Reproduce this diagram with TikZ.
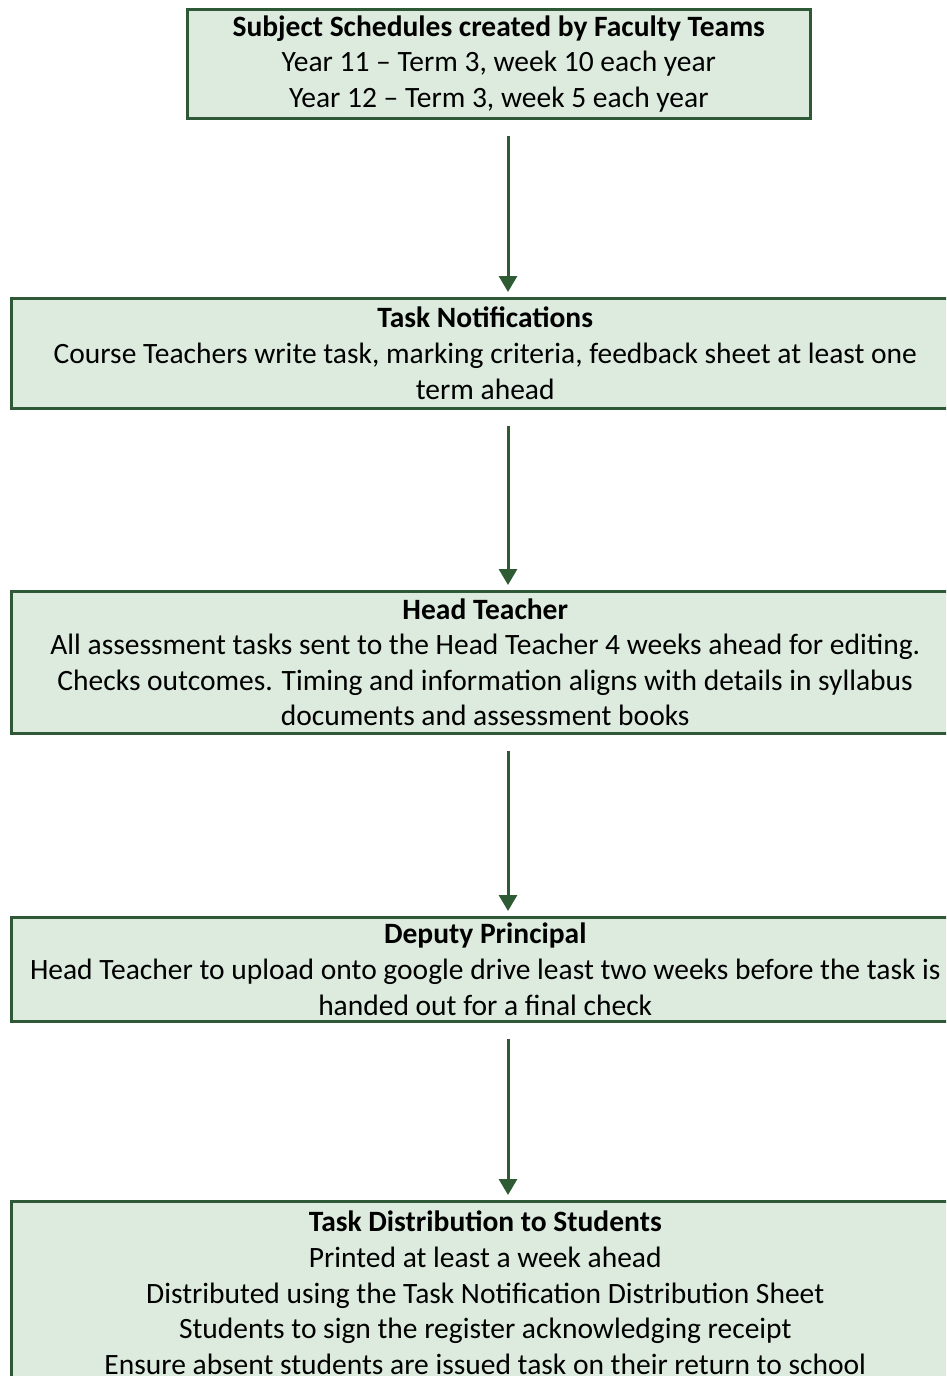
\documentclass[tikz,border=0pt]{standalone}
\usepackage{fontspec}
\setmainfont{Carlito}
\usetikzlibrary{arrows.meta}

\definecolor{boxfill}{RGB}{220,235,222}
\definecolor{boxline}{RGB}{47,89,54}
\definecolor{flowline}{RGB}{46,90,52}

\begin{document}
\begin{tikzpicture}[x=1pt,y=-1pt]

\tikzset{stage/.style = {rectangle, draw=boxline, fill=boxfill, line width=2.5pt,
  anchor=north west, align=center, inner sep=0pt,
  font=\fontsize{29.5}{35.6}\selectfont}}
\tikzset{flow/.style = {draw=flowline, line width=3pt,
  -{Triangle[width=18pt,length=16pt]}, shorten <=16pt, shorten >=5pt}}

\useasboundingbox (0,0) rectangle (946,1376);
\clip (0,0) rectangle (946,1376);
\coordinate (axis) at (508,0);

%stages
\node[stage, minimum width=623pt, minimum height=109pt] (sched) at (186,8)
  {\textbf{Subject Schedules created by Faculty Teams}\\
   Year 11 -- Term 3, week 10 each year\\
   Year 12 -- Term 3, week 5 each year};
\node[stage, minimum width=948pt, minimum height=110pt] (notif) at (10,297)
  {\textbf{Task Notifications}\\
   Course Teachers write task, marking criteria, feedback sheet at least one\\
   term ahead};
\node[stage, minimum width=948pt, minimum height=142pt] (head) at (10,590)
  {\textbf{Head Teacher}\\
   All assessment tasks sent to the Head Teacher 4 weeks ahead for editing.\\
   Checks outcomes. Timing and information aligns with details in syllabus\\
   documents and assessment books};
\node[stage, minimum width=948pt, minimum height=104pt] (deputy) at (10,916)
  {\textbf{Deputy Principal}\\
   Head Teacher to upload onto google drive least two weeks before the task is\\
   handed out for a final check};
\node[stage, minimum width=948pt, minimum height=183pt] (distrib) at (10,1200)
  {\textbf{Task Distribution to Students}\\
   Printed at least a week ahead\\
   Distributed using the Task Notification Distribution Sheet\\
   Students to sign the register acknowledging receipt\\
   Ensure absent students are issued task on their return to school};

%arrows
\draw[flow] (sched.south -| axis) -- (notif.north -| axis);
\draw[flow] (notif.south -| axis) -- (head.north -| axis);
\draw[flow] (head.south -| axis) -- (deputy.north -| axis);
\draw[flow] (deputy.south -| axis) -- (distrib.north -| axis);

\end{tikzpicture}
\end{document}
